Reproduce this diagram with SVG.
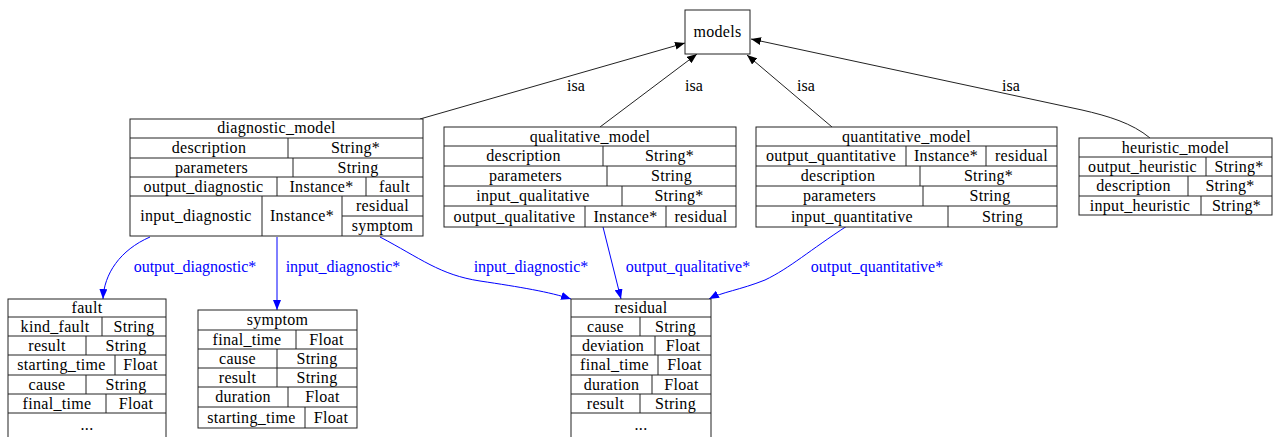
<svg xmlns="http://www.w3.org/2000/svg" width="1277" height="437" viewBox="0 0 1277 437">
<style>
text{font-family:"Liberation Serif","Times New Roman",serif;font-size:16px;text-anchor:middle;fill:#000}
.t text{letter-spacing:0.3px}
.box{fill:#fff;stroke:#222;stroke-width:1}
.ln{stroke:#222;stroke-width:1;fill:none}
.e{fill:none;stroke:#222;stroke-width:1}
.eb{fill:none;stroke:#0000ff;stroke-width:1}
.lb{fill:#0000ff}
</style>
<defs>
<marker id="ak" markerUnits="userSpaceOnUse" markerWidth="11" markerHeight="8" refX="10" refY="4" orient="auto"><path d="M0,0 L10,4 L0,8 z" fill="#000"/></marker>
<marker id="ab" markerUnits="userSpaceOnUse" markerWidth="11" markerHeight="8" refX="10" refY="4" orient="auto"><path d="M0,0 L10,4 L0,8 z" fill="#0000ff"/></marker>
</defs>
<rect width="1277" height="437" fill="#fff"/>
<g id="connectors">
<path class="e" d="M420,119 L685,43" marker-end="url(#ak)"/>
<path class="e" d="M600,127 L697,54" marker-end="url(#ak)"/>
<path class="e" d="M832,127 L747,55" marker-end="url(#ak)"/>
<path class="e" d="M1150,138 C1132,123 1108,116 1082,110 L751,39" marker-end="url(#ak)"/>
<text x="576" y="91">isa</text>
<text x="694" y="91">isa</text>
<text x="806" y="91">isa</text>
<text x="1011" y="91">isa</text>
<path class="eb" d="M150,237 C120,250 104,274 103,299" marker-end="url(#ab)"/>
<path class="eb" d="M277,237 L277,310" marker-end="url(#ab)"/>
<path class="eb" d="M380,237 C420,258 440,275 480,281 C520,287 550,292 571,299" marker-end="url(#ab)"/>
<path class="eb" d="M603,227 L621,299" marker-end="url(#ab)"/>
<path class="eb" d="M847,226 C810,250 790,268 765,280 C740,290 722,292 709,299" marker-end="url(#ab)"/>
<text class="lb" x="195" y="272">output_diagnostic*</text>
<text class="lb" x="343" y="272">input_diagnostic*</text>
<text class="lb" x="531" y="272">input_diagnostic*</text>
<text class="lb" x="688" y="272">output_qualitative*</text>
<text class="lb" x="877" y="272">output_quantitative*</text>
</g>
<g id="models" class="t">
<rect class="box" x="685" y="10" width="65" height="44"/>
<text x="717.5" y="37">models</text>
</g>
<g id="diagnostic_model" class="t">
<rect class="box" x="130" y="119" width="293" height="117"/>
<path class="ln" d="M130,138H423M130,158H423M130,177H423M130,196H423M342,216H423M288,138V158M293,158V177M277,177V196M366,177V196M262,196V236M342,196V236"/>
<text x="276.5" y="133">diagnostic_model</text>
<text x="209" y="153">description</text><text x="355.5" y="153">String*</text>
<text x="211.5" y="172.5">parameters</text><text x="358" y="172.5">String</text>
<text x="203.5" y="191.5">output_diagnostic</text><text x="321.5" y="191.5">Instance*</text><text x="394.5" y="191.5">fault</text>
<text x="196" y="221">input_diagnostic</text><text x="302" y="221">Instance*</text>
<text x="382.5" y="211">residual</text><text x="382.5" y="231">symptom</text>
</g>
<g id="qualitative_model" class="t">
<rect class="box" x="444" y="127" width="292" height="100"/>
<path class="ln" d="M444,146H736M444,166H736M444,186H736M444,206H736M603,146V166M607,166V186M622,186V206M585,206V227M666,206V227"/>
<text x="590" y="141.5">qualitative_model</text>
<text x="523.5" y="161">description</text><text x="669.5" y="161">String*</text>
<text x="525.5" y="181">parameters</text><text x="671.5" y="181">String</text>
<text x="533" y="201">input_qualitative</text><text x="679" y="201">String*</text>
<text x="514.5" y="221.5">output_qualitative</text><text x="625.5" y="221.5">Instance*</text><text x="701" y="221.5">residual</text>
</g>
<g id="quantitative_model" class="t">
<rect class="box" x="756" y="127" width="301" height="100"/>
<path class="ln" d="M756,146H1057M756,166H1057M756,186H1057M756,206H1057M906,146V166M986,146V166M920,166V186M923,186V206M948,206V227"/>
<text x="906.5" y="141.5">quantitative_model</text>
<text x="831" y="161">output_quantitative</text><text x="946" y="161">Instance*</text><text x="1021.5" y="161">residual</text>
<text x="838" y="181">description</text><text x="988.5" y="181">String*</text>
<text x="839.5" y="201">parameters</text><text x="990" y="201">String</text>
<text x="852" y="221.5">input_quantitative</text><text x="1002.5" y="221.5">String</text>
</g>
<g id="heuristic_model" class="t">
<rect class="box" x="1079" y="138" width="193" height="77"/>
<path class="ln" d="M1079,157H1272M1079,176H1272M1079,196H1272M1206,157V176M1188,176V196M1201,196V215"/>
<text x="1175.5" y="152.5">heuristic_model</text>
<text x="1142.5" y="171.5">output_heuristic</text><text x="1239" y="171.5">String*</text>
<text x="1133.5" y="191">description</text><text x="1230" y="191">String*</text>
<text x="1140" y="210.5">input_heuristic</text><text x="1236.5" y="210.5">String*</text>
</g>
<g id="fault" class="t">
<rect class="box" x="8" y="299" width="158" height="150"/>
<path class="ln" d="M8,317H166M8,336H166M8,355H166M8,375H166M8,394H166M8,413H166M102,317V336M86,336V355M115,355V375M86,375V394M106,394V413"/>
<text x="87" y="313">fault</text>
<text x="55" y="331.5">kind_fault</text><text x="134" y="331.5">String</text>
<text x="47" y="350.5">result</text><text x="126" y="350.5">String</text>
<text x="61.5" y="370">starting_time</text><text x="140.5" y="370">Float</text>
<text x="47" y="389.5">cause</text><text x="126" y="389.5">String</text>
<text x="57" y="408.5">final_time</text><text x="136" y="408.5">Float</text>
<text x="87" y="430">...</text>
</g>
<g id="symptom" class="t">
<rect class="box" x="198" y="310" width="159" height="118"/>
<path class="ln" d="M198,330H357M198,349H357M198,368H357M198,387H357M198,407H357M296,330V349M277,349V368M277,368V387M288,387V407M305,407V428"/>
<text x="277.5" y="325">symptom</text>
<text x="247" y="344.5">final_time</text><text x="326.5" y="344.5">Float</text>
<text x="237.5" y="363.5">cause</text><text x="317" y="363.5">String</text>
<text x="237.5" y="382.5">result</text><text x="317" y="382.5">String</text>
<text x="243" y="402">duration</text><text x="322.5" y="402">Float</text>
<text x="251.5" y="422.5">starting_time</text><text x="331" y="422.5">Float</text>
</g>
<g id="residual" class="t">
<rect class="box" x="571" y="299" width="140" height="150"/>
<path class="ln" d="M571,317H711M571,336H711M571,355H711M571,375H711M571,394H711M571,413H711M640,317V336M655,336V355M658,355V375M652,375V394M640,394V413"/>
<text x="641" y="313">residual</text>
<text x="605.5" y="331.5">cause</text><text x="675.5" y="331.5">String</text>
<text x="613" y="350.5">deviation</text><text x="683" y="350.5">Float</text>
<text x="614.5" y="370">final_time</text><text x="684.5" y="370">Float</text>
<text x="611.5" y="389.5">duration</text><text x="681.5" y="389.5">Float</text>
<text x="605.5" y="408.5">result</text><text x="675.5" y="408.5">String</text>
<text x="641" y="430">...</text>
</g>
</svg>
